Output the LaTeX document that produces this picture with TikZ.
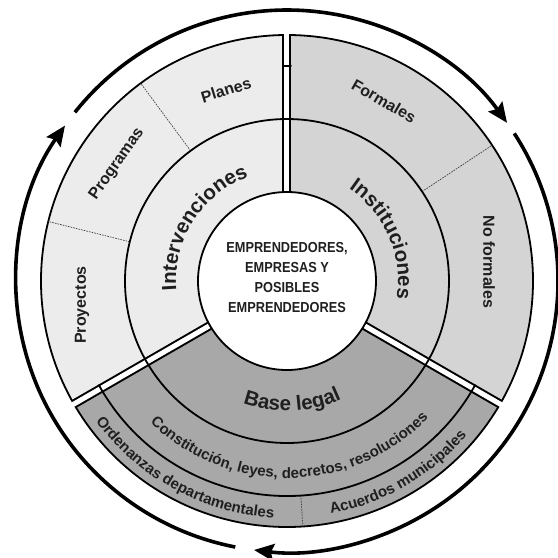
\documentclass[tikz,border=0pt]{standalone}
\usepackage{fontspec}
\setmainfont{Liberation Sans}
\newfontfamily\narrowfont[FakeStretch=0.88]{Liberation Sans}
\usetikzlibrary{arrows.meta, decorations.text}

\definecolor{lightsec}{gray}{0.925}
\definecolor{midsec}{gray}{0.83}
\definecolor{darksec}{gray}{0.66}
\newcommand{\ringfont}{\bfseries\fontsize{20.5}{24}\selectfont}
\newcommand{\bandfont}{\bfseries\fontsize{16}{19}\selectfont}
\newcommand{\legfont}{\bfseries\fontsize{15}{18}\selectfont}

\begin{document}
\begin{tikzpicture}[x=1pt,y=1pt,
	ring/.style={line width=1.8pt},
	divider/.style={line width=0.7pt, dash pattern=on 1.6pt off 1.1pt, black!75},
	flow/.style={line width=3.6pt, -{Stealth[length=20pt,width=17pt,inset=3pt]}},
	band/.style={font=\bandfont, text=black!88},
	curved/.style={decorate, decoration={text along path, text align=center, text color=black!88, text={#1}}}]
	\useasboundingbox (-287,-277) rectangle (271,281);

	% the three sectors
	\fill[lightsec] (90:89) arc[start angle=90, end angle=210, radius=89] -- (210:246) arc[start angle=210, end angle=90, radius=246] -- cycle;
	\fill[midsec] (-30:89) arc[start angle=-30, end angle=90, radius=89] -- (90:246) arc[start angle=90, end angle=-30, radius=246] -- cycle;
	\fill[darksec] (210:89) arc[start angle=210, end angle=330, radius=89] -- (330:246) arc[start angle=330, end angle=210, radius=246] -- cycle;
	\draw[ring] (0,0) circle[radius=246];

	% dividers inside the outer band
	\foreach \a in {126.5,166,33.5}
		\draw[divider] (\a:162) -- (\a:246);
	\draw[divider] (273.7:215) -- (273.7:246);

	% white gaps between the sectors
	\foreach \a in {90,210,330} {
		\draw[line width=9pt] (\a:89) -- (\a:246);
		\draw[white, line width=5pt] (\a:87) -- (\a:249);
	}
	\draw[ring] (0,0) circle[radius=162];
	\draw[ring] (208.8:215) arc[start angle=208.8, end angle=331.2, radius=215];
	\draw[ring] (88.8:215) arc[start angle=88.8, end angle=91.2, radius=215];
	\draw[ring, fill=white] (0,0) circle[radius=89];

	% cycle arrows
	\draw[flow] (141.5:271) arc[start angle=141.5, end angle=35.7, radius=271];
	\draw[flow] (33:271) arc[start angle=33, end angle=-97, radius=271];
	\draw[flow] (259:271) arc[start angle=259, end angle=145, radius=271];

	\node[align=center, font=\narrowfont\bfseries\fontsize{14.5}{20.3}\selectfont, text=black!88] (core) at (0,3.5) {EMPRENDEDORES,\\EMPRESAS Y\\POSIBLES\\EMPRENDEDORES};

	\node[band, rotate=90] (proy) at (-205,-24) {Proyectos};
	\node[band, rotate=55] (prog) at (-170,117) {Programas};
	\node[band, rotate=17] (plan) at (-61,191) {Planes};
	\node[band, rotate=-30] (form) at (97,180) {Formales};
	\node[band, rotate=-90] (nofo) at (202,19) {No formales};

	\path[curved={|\ringfont|Intervenciones}] (207:111) arc[start angle=207, end angle=88, radius=111];
	\path[curved={|\ringfont|Instituciones}] (83:111) arc[start angle=83, end angle=-36, radius=111];
	\path[curved={|\ringfont|Base legal}] (232:130) arc[start angle=232, end angle=313, radius=130];
	\path[curved={|\legfont|Constitución, leyes, decretos, resoluciones}] (206:197) arc[start angle=206, end angle=336, radius=197];
	\path[curved={|\legfont|Ordenanzas departamentales}] (206:237) arc[start angle=206, end angle=277, radius=237];
	\path[curved={|\legfont|Acuerdos municipales}] (270:237) arc[start angle=270, end angle=330, radius=237];
\end{tikzpicture}
\end{document}
